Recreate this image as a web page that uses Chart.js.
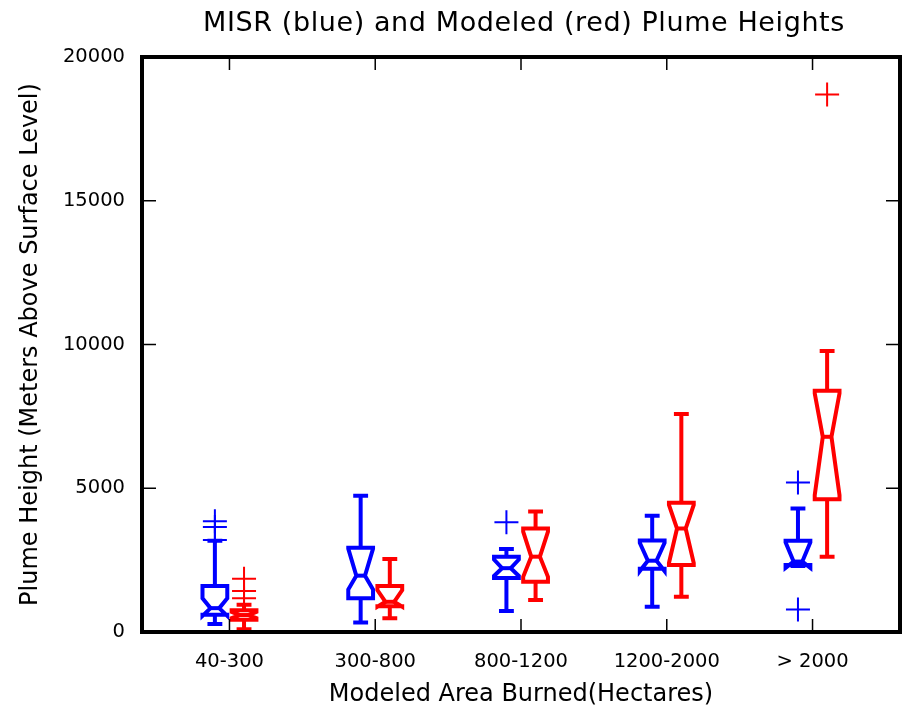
<!DOCTYPE html>
<html>
<head>
<meta charset="utf-8">
<script src="https://cdn.jsdelivr.net/npm/chart.js@4/dist/chart.umd.min.js"></script>
<style>
  html, body { margin: 0; padding: 0; background: #fff; }
  #wrap { width: 914px; height: 708px; }
</style>
</head>
<body>
<div id="wrap"><canvas id="plume" width="914" height="708"></canvas></div>
<script>
const chartTitle = 'MISR (blue) and Modeled (red) Plume Heights';
const categories = ['40-300', '300-800', '800-1200', '1200-2000', '> 2000'];
const yTicks = [0, 5000, 10000, 15000, 20000];

// MISR (blue)
const misrLow     = [280, 330, 730, 880, 2300];
const misrQ1      = [600, 1170, 1880, 2200, 2330];
const misrMedian  = [830, 1960, 2220, 2480, 2450];
const misrQ3      = [1600, 2930, 2620, 3180, 3170];
const misrHigh    = [3170, 4740, 2890, 4040, 4300];
const misrNotchLo = [560, 1480, 1950, 2120, 2230];
const misrNotchHi = [1170, 2900, 2520, 3100, 3120];
const misrOutliers = [[3850, 3650, 3200], [], [3820], [], [5200, 780]];

// Modeled (red)
const modelLow     = [100, 480, 1110, 1230, 2620];
const modelQ1      = [430, 900, 1750, 2330, 4620];
const modelMedian  = [590, 1050, 2620, 3600, 6790];
const modelQ3      = [760, 1600, 3600, 4500, 8390];
const modelHigh    = [950, 2540, 4190, 7580, 9770];
const modelNotchLo = [480, 880, 1920, 2400, 4760];
const modelNotchHi = [700, 1460, 3490, 4420, 8300];
const modelOutliers = [[1850, 1430, 1170], [], [], [], [18700]];

const BLUE = '#0000ff';
const RED = '#ff0000';
const shift = 0.1;      // offset of each box from the category tick
const boxHalf = 0.085;  // half box width, x units

function outlierPoints(list, dx) {
  const pts = [];
  list.forEach((vals, i) => vals.forEach(v => pts.push({x: i + dx, y: v})));
  return pts;
}

const series = [
  {color: BLUE, dx: -shift, low: misrLow, q1: misrQ1, med: misrMedian, q3: misrQ3, high: misrHigh, nlo: misrNotchLo, nhi: misrNotchHi},
  {color: RED, dx: shift, low: modelLow, q1: modelQ1, med: modelMedian, q3: modelQ3, high: modelHigh, nlo: modelNotchLo, nhi: modelNotchHi}
];

// notched boxes + whiskers, placed through the chart scales
const plumeBoxes = {
  id: 'plumeBoxes',
  afterDatasetsDraw(chart) {
    const {ctx, scales: {x, y}} = chart;
    const hw = Math.abs(x.getPixelForValue(boxHalf) - x.getPixelForValue(0));
    const nw = hw * 0.35;
    const cw = hw * 0.6;
    ctx.save();
    ctx.lineWidth = 4;
    ctx.lineJoin = 'miter';
    ctx.lineCap = 'butt';
    series.forEach(s => {
      ctx.strokeStyle = s.color;
      categories.forEach((c, i) => {
        const cx = x.getPixelForValue(i + s.dx);
        const lo = y.getPixelForValue(s.low[i]);
        const q1 = y.getPixelForValue(s.q1[i]);
        const md = y.getPixelForValue(s.med[i]);
        const q3 = y.getPixelForValue(s.q3[i]);
        const hi = y.getPixelForValue(s.high[i]);
        const nlo = y.getPixelForValue(s.nlo[i]);
        const nhi = y.getPixelForValue(s.nhi[i]);
        // whiskers
        ctx.beginPath();
        ctx.moveTo(cx, q3); ctx.lineTo(cx, hi);
        ctx.moveTo(cx - cw, hi); ctx.lineTo(cx + cw, hi);
        ctx.moveTo(cx, q1); ctx.lineTo(cx, lo);
        ctx.moveTo(cx - cw, lo); ctx.lineTo(cx + cw, lo);
        ctx.stroke();
        // notched box
        ctx.beginPath();
        ctx.moveTo(cx - hw, q1);
        ctx.lineTo(cx - hw, nlo);
        ctx.lineTo(cx - nw, md);
        ctx.lineTo(cx - hw, nhi);
        ctx.lineTo(cx - hw, q3);
        ctx.lineTo(cx + hw, q3);
        ctx.lineTo(cx + hw, nhi);
        ctx.lineTo(cx + nw, md);
        ctx.lineTo(cx + hw, nlo);
        ctx.lineTo(cx + hw, q1);
        ctx.closePath();
        ctx.stroke();
        // median line
        ctx.beginPath();
        ctx.moveTo(cx - nw, md); ctx.lineTo(cx + nw, md);
        ctx.stroke();
      });
    });
    ctx.restore();
  },
  afterDraw(chart) {
    const {ctx, chartArea: a, scales: {x, y}} = chart;
    ctx.save();
    ctx.strokeStyle = '#000';
    ctx.lineWidth = 1.5;
    ctx.beginPath();
    x.ticks.forEach(t => {
      const px = x.getPixelForValue(t.value);
      ctx.moveTo(px, a.bottom); ctx.lineTo(px, a.bottom - 13);
      ctx.moveTo(px, a.top); ctx.lineTo(px, a.top + 13);
    });
    y.ticks.forEach(t => {
      const py = y.getPixelForValue(t.value);
      ctx.moveTo(a.left, py); ctx.lineTo(a.left + 14, py);
      ctx.moveTo(a.right, py); ctx.lineTo(a.right - 14, py);
    });
    ctx.stroke();
    ctx.lineWidth = 4;
    ctx.strokeRect(a.left, a.top, a.right - a.left, a.bottom - a.top);

    // chart title, centred over the plot frame
    ctx.fillStyle = '#000';
    ctx.font = '27px "DejaVu Sans"';
    ctx.letterSpacing = '0.6px';
    ctx.textAlign = 'center';
    ctx.textBaseline = 'alphabetic';
    ctx.fillText(chartTitle, (a.left + a.right) / 2 + 3, a.top - 26);
    ctx.restore();
  }
};

const ctx = document.getElementById('plume').getContext('2d');
const chart = new Chart(ctx, {
  type: 'scatter',
  data: {
    datasets: [
      {
        label: 'MISR outliers',
        data: outlierPoints(misrOutliers, -shift),
        pointStyle: 'cross',
        pointRadius: 12,
        borderWidth: 2,
        borderColor: BLUE,
        backgroundColor: BLUE
      },
      {
        label: 'Modeled outliers',
        data: outlierPoints(modelOutliers, shift),
        pointStyle: 'cross',
        pointRadius: 12,
        borderWidth: 2,
        borderColor: RED,
        backgroundColor: RED
      }
    ]
  },
  options: {
    responsive: false,
    animation: false,
    layout: { padding: { left: 0, right: 7, top: 57, bottom: 0 } },
    plugins: {
      legend: { display: false },
      tooltip: { enabled: false },
      title: { display: false }
    },
    scales: {
      x: {
        type: 'linear',
        min: -0.6,
        max: 4.6,
        grid: { display: false },
        border: { display: false },
        afterBuildTicks: scale => { scale.ticks = categories.map((c, i) => ({value: i})); },
        afterFit: scale => { scale.height = 76; },
        ticks: {
          color: '#000',
          padding: 10,
          maxRotation: 0,
          autoSkip: false,
          font: { family: 'DejaVu Sans', size: 19.5 },
          callback: v => categories[v]
        },
        title: {
          display: true,
          text: 'Modeled Area Burned(Hectares)',
          color: '#000',
          font: { family: 'DejaVu Sans', size: 24 },
          padding: { top: 0, bottom: -1 }
        }
      },
      y: {
        min: 0,
        max: 20000,
        grid: { display: false },
        border: { display: false },
        afterBuildTicks: scale => { scale.ticks = yTicks.map(v => ({value: v})); },
        afterFit: scale => { scale.width = 142; },
        ticks: {
          color: '#000',
          padding: 9,
          font: { family: 'DejaVu Sans', size: 19.5 },
          callback: v => String(v)
        },
        title: {
          display: true,
          text: 'Plume Height (Meters Above Surface Level)',
          color: '#000',
          font: { family: 'DejaVu Sans', size: 24 },
          padding: { top: 16, bottom: 0 }
        }
      }
    }
  },
  plugins: [plumeBoxes]
});
</script>
</body>
</html>
